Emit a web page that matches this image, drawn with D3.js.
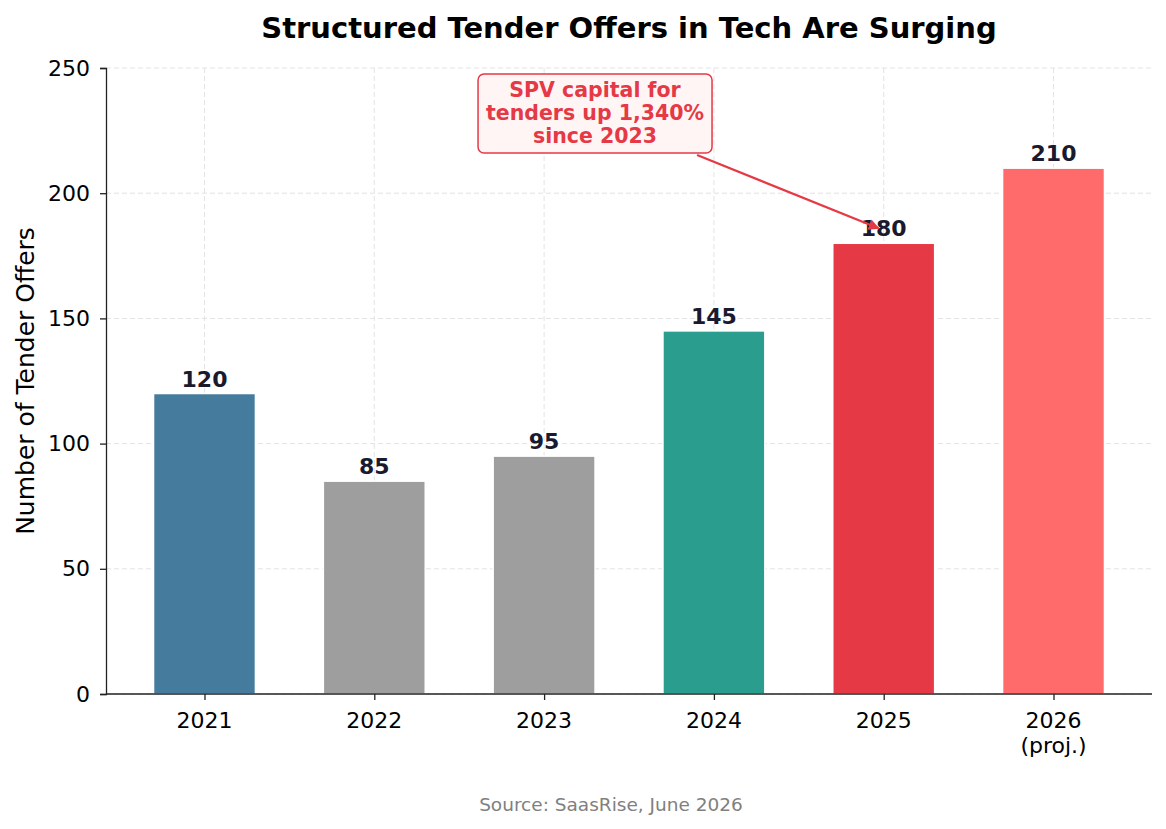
<!DOCTYPE html>
<html>
<head>
<meta charset="utf-8">
<script src="https://cdn.jsdelivr.net/npm/d3@7"></script>
<style>
  body { margin: 0; background: #fff; }
  svg { font-family: "DejaVu Sans", sans-serif; }
</style>
</head>
<body>
<svg id="chart" width="1166" height="829"></svg>
<script>
// chart data
const years = ["2021", "2022", "2023", "2024", "2025", "2026\n(proj.)"];
const offers = [120, 85, 95, 145, 180, 210];
const barColors = ["#457b9d", "#9e9e9e", "#9e9e9e", "#2a9d8f", "#e63946", "#ff6b6b"];
const yTicks = [0, 50, 100, 150, 200, 250];

const svg = d3.select("#chart");
const margin = { top: 68, right: 14, bottom: 135, left: 106 };
const width = 1166 - margin.left - margin.right;
const height = 829 - margin.top - margin.bottom;

const g = svg.append("g")
    .attr("transform", `translate(${margin.left},${margin.top})`);

// x as linear over category index, like matplotlib's bar positions
const x = d3.scaleLinear()
    .domain([-0.58, years.length - 1 + 0.58])
    .range([0, width]);
const barW = x(0.6) - x(0);

const y = d3.scaleLinear()
    .domain([0, 250])
    .range([height, 0]);

// grid
g.append("g")
    .selectAll("line")
    .data(yTicks)
    .enter().append("line")
    .attr("x1", 0).attr("x2", width)
    .attr("y1", d => y(d)).attr("y2", d => y(d))
    .attr("stroke", "#e3e3e3")
    .attr("stroke-dasharray", "5,3");

g.append("g")
    .selectAll("line")
    .data(years.map((d, i) => i))
    .enter().append("line")
    .attr("x1", d => x(d)).attr("x2", d => x(d))
    .attr("y1", 0).attr("y2", height)
    .attr("stroke", "#e3e3e3")
    .attr("stroke-dasharray", "5,3");

// bars
g.selectAll(".bar")
    .data(offers)
    .enter().append("rect")
    .attr("class", "bar")
    .attr("x", (d, i) => x(i) - barW / 2)
    .attr("y", d => y(d))
    .attr("width", barW)
    .attr("height", d => height - y(d))
    .attr("fill", (d, i) => barColors[i])
    .attr("stroke", "#fff")
    .attr("stroke-width", 1.5);

// value labels
g.selectAll(".val")
    .data(offers)
    .enter().append("text")
    .attr("class", "val")
    .attr("x", (d, i) => x(i))
    .attr("y", d => y(d) - 7)
    .attr("text-anchor", "middle")
    .attr("font-size", "22px")
    .attr("font-weight", "bold")
    .attr("fill", "#1a1a2e")
    .text(d => d);

// y axis
const yAxis = g.append("g")
    .call(d3.axisLeft(y).tickValues(yTicks).tickSize(6).tickPadding(10));
yAxis.select(".domain").attr("stroke", "#222").attr("stroke-width", 1.3);
yAxis.selectAll(".tick line").attr("stroke", "#222").attr("stroke-width", 1.3);
yAxis.selectAll(".tick text")
    .attr("font-size", "22px")
    .attr("fill", "#000")
    .style("font-family", "DejaVu Sans");

// x axis
const xAxis = g.append("g")
    .attr("transform", `translate(0,${height})`)
    .call(d3.axisBottom(x).tickValues(years.map((d, i) => i)).tickSize(6)
        .tickFormat(() => ""));
xAxis.select(".domain").attr("stroke", "#222").attr("stroke-width", 1.3)
    .attr("d", `M0,0H${width}`);
xAxis.selectAll(".tick line").attr("stroke", "#222").attr("stroke-width", 1.3);

years.forEach((label, i) => {
    const t = g.append("text")
        .attr("x", x(i))
        .attr("y", height + 34)
        .attr("text-anchor", "middle")
        .attr("font-size", "22px")
        .attr("fill", "#000");
    label.split("\n").forEach((line, k) => {
        t.append("tspan")
            .attr("x", x(i))
            .attr("dy", k === 0 ? 0 : 25)
            .text(line);
    });
});

// y label
svg.append("text")
    .attr("transform", `translate(34,${margin.top + height / 2}) rotate(-90)`)
    .attr("text-anchor", "middle")
    .attr("font-size", "25px")
    .attr("fill", "#000")
    .text("Number of Tender Offers");

// title
svg.append("text")
    .attr("x", margin.left + width / 2)
    .attr("y", 38)
    .attr("text-anchor", "middle")
    .attr("font-size", "29px")
    .attr("font-weight", "bold")
    .attr("fill", "#000")
    .text("Structured Tender Offers in Tech Are Surging");

// annotation
const boxCx = x(2.3), boxCy = y(232);
const arrowEnd = [x(3.97), y(186)];
const arrowStart = [boxCx + 102, boxCy + 42];
const red = "#e63946";

svg.append("defs").append("marker")
    .attr("id", "arrowhead")
    .attr("viewBox", "0 0 10 10")
    .attr("refX", 9).attr("refY", 5)
    .attr("markerWidth", 5).attr("markerHeight", 5)
    .attr("markerUnits", "strokeWidth")
    .attr("orient", "auto")
    .append("path")
    .attr("d", "M0,0L10,5L0,10z")
    .attr("fill", red);

g.append("line")
    .attr("x1", arrowStart[0]).attr("y1", arrowStart[1])
    .attr("x2", arrowEnd[0]).attr("y2", arrowEnd[1])
    .attr("stroke", red)
    .attr("stroke-width", 2.2)
    .attr("marker-end", "url(#arrowhead)");

g.append("rect")
    .attr("x", boxCx - 117).attr("y", boxCy - 39)
    .attr("width", 234).attr("height", 79)
    .attr("rx", 6)
    .attr("fill", "#fff5f5")
    .attr("stroke", red)
    .attr("stroke-width", 1.5);

const annLines = ["SPV capital for", "tenders up 1,340%", "since 2023"];
const ann = g.append("text")
    .attr("text-anchor", "middle")
    .attr("font-size", "20.5px")
    .attr("font-weight", "bold")
    .attr("fill", red);
annLines.forEach((line, k) => {
    ann.append("tspan")
        .attr("x", boxCx)
        .attr("y", boxCy - 16 + k * 23)
        .text(line);
});

// source
svg.append("text")
    .attr("x", 611)
    .attr("y", 811)
    .attr("text-anchor", "middle")
    .attr("font-size", "18.5px")
    .attr("fill", "#808080")
    .text("Source: SaasRise, June 2026");
</script>
</body>
</html>
